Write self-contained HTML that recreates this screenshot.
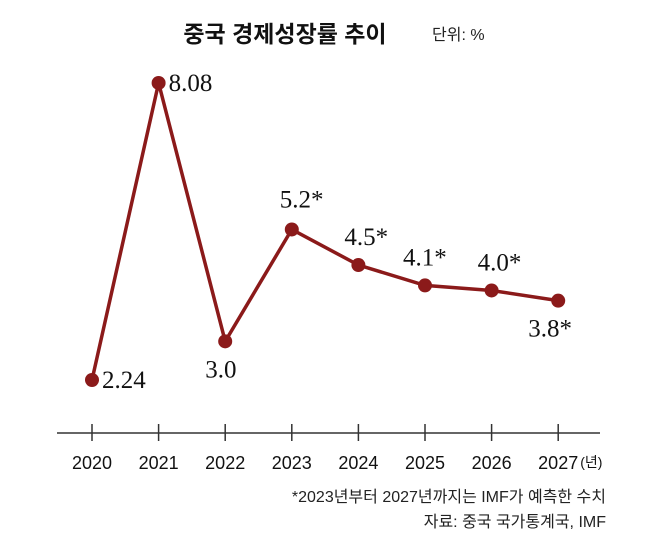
<!DOCTYPE html>
<html><head><meta charset="utf-8">
<style>
body{margin:0;background:#fff;}
svg{display:block;}
.sans{font-family:"Liberation Sans","Noto Sans CJK KR",sans-serif;}
.serif{font-family:"Liberation Serif","Noto Serif CJK SC",serif;}
</style></head>
<body>
<svg width="647" height="545" viewBox="0 0 647 545">
<text x="285" y="42" text-anchor="middle" class="sans" font-size="23" font-weight="bold" fill="#111">중국 경제성장률 추이</text>
<text x="432" y="40" class="sans" font-size="16" fill="#222">단위: %</text>
<line x1="57" y1="433" x2="600" y2="433" stroke="#333" stroke-width="1.5"/>
<g id="ticks"></g>
<g id="series"></g>
<text x="606" y="502" text-anchor="end" class="sans" font-size="16" fill="#222">*2023년부터 2027년까지는 IMF가 예측한 수치</text>
<text x="606" y="527" text-anchor="end" class="sans" font-size="16" fill="#222">자료: 중국 국가통계국, IMF</text>
</svg>
<script>
const years=["2020","2021","2022","2023","2024","2025","2026","2027"];
const values=[2.24,8.08,3.0,5.2,4.5,4.1,4.0,3.8];
const valueLabels=["2.24","8.08","3.0","5.2*","4.5*","4.1*","4.0*","3.8*"];
const NS="http://www.w3.org/2000/svg";
function xPos(i){return 92+i*66.6;}
function yPos(v){return 380-(v-2.24)*50.86;}
const ticks=document.getElementById('ticks');
const series=document.getElementById('series');
function mk(t,a,p){const e=document.createElementNS(NS,t);for(const k in a)e.setAttribute(k,a[k]);p.appendChild(e);return e;}
years.forEach((y,i)=>{
  const l=mk('line',{x1:xPos(i),x2:xPos(i),y1:424,y2:441,stroke:'#333','stroke-width':1.5},ticks);
  
  
  const t=mk('text',{x:xPos(i),y:469,'text-anchor':'middle','font-size':18,fill:'#111',class:'sans'},ticks);
  t.textContent=y+(i===years.length-1?'':'');
  
  
});
const unitT=mk('text',{x:xPos(7)+22,y:467,'font-size':14,fill:'#111',class:'sans'},ticks);
unitT.textContent='(년)';


const pts=values.map((v,i)=>xPos(i)+','+yPos(v)).join(' ');
const pl=mk('polyline',{points:pts,fill:'none',stroke:'#8b1a1a','stroke-width':3.5,'stroke-linejoin':'miter'},series);


const off=[[10,8],[10,8],[-20,36],[-12,-22],[-14,-20],[-22,-20],[-14,-20],[-30,36]];
values.forEach((v,i)=>{
  const c=mk('circle',{cx:xPos(i),cy:yPos(v),r:7,fill:'#8b1a1a'},series);
  
  
  const t=mk('text',{x:xPos(i)+off[i][0],y:yPos(v)+off[i][1],'font-size':25,fill:'#111',class:'serif'},series);
  t.textContent=valueLabels[i];
  
  
});
</script>
</body></html>
